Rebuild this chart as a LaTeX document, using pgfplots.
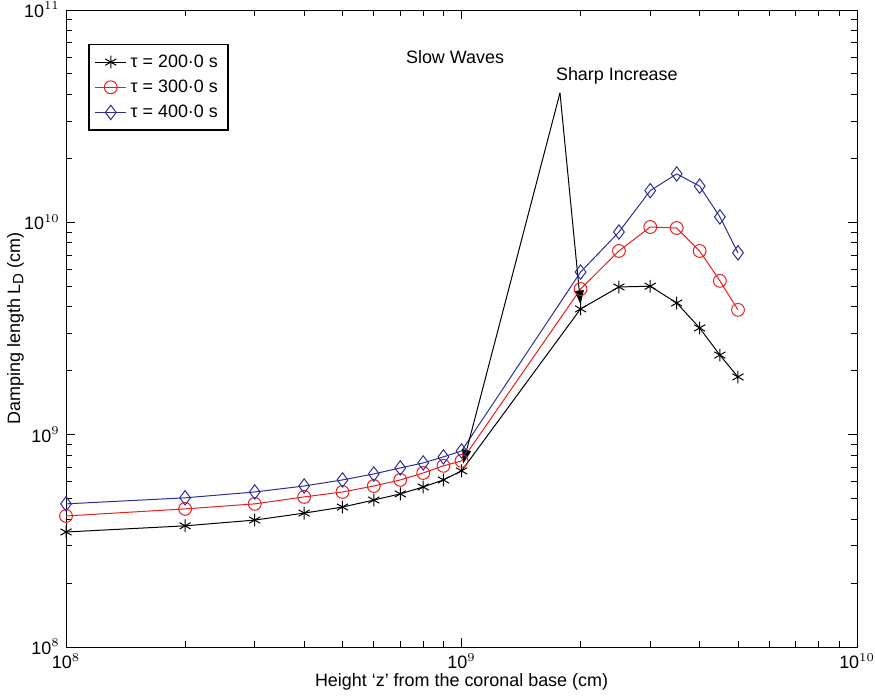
\documentclass[border=0pt]{standalone}
\usepackage{fontspec}
\setmainfont{Liberation Sans}
\usepackage{pgfplots}
\pgfplotsset{compat=1.18}
\usetikzlibrary{arrows.meta}
\definecolor{myred}{RGB}{230,30,30}
\definecolor{myblue}{RGB}{45,45,150}
\begin{document}
\fontsize{9}{11}\selectfont
\begin{tikzpicture}
\begin{axis}[
  scale only axis,
  width=395.5bp, height=318.5bp,
  xmode=log, ymode=log, log basis x=10, log basis y=10,
  xmin=1e8, xmax=1e10, ymin=1e8, ymax=1e11,
  xticklabel={10\textsuperscript{\pgfmathprintnumber[fixed,precision=0]{\tick}}},
  yticklabel={10\textsuperscript{\pgfmathprintnumber[fixed,precision=0]{\tick}}},
  tick align=inside,
  major tick length=4.5bp, minor tick length=2.8bp,
  every tick/.style={black, line width=0.4pt},
  every tick label/.append style={font=\fontsize{9}{11}\selectfont},
  xlabel={Height ‘z’ from the coronal base (cm)},
  ylabel={Damping length L\raisebox{-0.35ex}{\fontsize{7.5}{9}\selectfont D} (cm)},
  xlabel style={font=\fontsize{9}{11}\selectfont, yshift=4bp},
  ylabel style={font=\fontsize{9}{11}\selectfont, yshift=-6bp},
  legend style={at={(0.028,0.947)}, anchor=north west, draw=black, thick,
    font=\fontsize{9}{11}\selectfont, row sep=1pt, inner xsep=3pt, inner ysep=3pt},
  legend cell align=left,
  legend image code/.code={\draw[#1, mark repeat=2, mark phase=2] plot coordinates {(0cm,0cm) (0.27cm,0cm) (0.54cm,0cm)};},
  every axis plot/.append style={line width=0.5pt},
  clip=false,
]
\addplot[black, mark=asterisk, mark size=3.2bp] coordinates {
 (1e8,3.48e8) (2e8,3.72e8) (3e8,3.96e8) (4e8,4.27e8) (5e8,4.56e8) (6e8,4.92e8)
 (7e8,5.26e8) (8e8,5.67e8) (9e8,6.12e8) (1e9,6.75e8) (2e9,3.91e9) (2.5e9,4.96e9)
 (3e9,5.0e9) (3.5e9,4.17e9) (4e9,3.18e9) (4.5e9,2.37e9) (5e9,1.87e9)};
\addlegendentry{τ = 200·0 s}
\addplot[myred, mark=o, mark size=3.2bp] coordinates {
 (1e8,4.14e8) (2e8,4.47e8) (3e8,4.72e8) (4e8,5.09e8) (5e8,5.37e8) (6e8,5.73e8)
 (7e8,6.12e8) (8e8,6.60e8) (9e8,7.13e8) (1e9,7.52e8) (2e9,4.85e9) (2.5e9,7.33e9)
 (3e9,9.5e9) (3.5e9,9.4e9) (4e9,7.33e9) (4.5e9,5.3e9) (5e9,3.87e9)};
\addlegendentry{τ = 300·0 s}
\addplot[myblue, mark=diamond, mark size=3.6bp] coordinates {
 (1e8,4.72e8) (2e8,5.04e8) (3e8,5.37e8) (4e8,5.73e8) (5e8,6.12e8) (6e8,6.53e8)
 (7e8,6.97e8) (8e8,7.36e8) (9e8,7.86e8) (1e9,8.38e8) (2e9,5.83e9) (2.5e9,9.0e9)
 (3e9,1.41e10) (3.5e9,1.69e10) (4e9,1.48e10) (4.5e9,1.06e10) (5e9,7.18e9)};
\addlegendentry{τ = 400·0 s}
\node[font=\fontsize{9}{11}\selectfont] at (axis cs:9.63e8,6.0e10) {Slow Waves};
\node[font=\fontsize{9}{11}\selectfont] at (axis cs:2.47e9,4.9e10) {Sharp Increase};
\draw[-{Triangle[length=7bp,width=4.5bp]}, line width=0.5pt] (axis cs:1.774e9,4.07e10) -- (axis cs:1.009e9,7.3e8);
\draw[-{Triangle[length=7bp,width=4.5bp]}, line width=0.5pt] (axis cs:1.774e9,4.07e10) -- (axis cs:2.0e9,4.1e9);
\end{axis}
\pgfresetboundingbox
\path[use as bounding box] (-33bp,-25bp) rectangle (404.5bp,323.5bp);
\end{tikzpicture}
\end{document}
